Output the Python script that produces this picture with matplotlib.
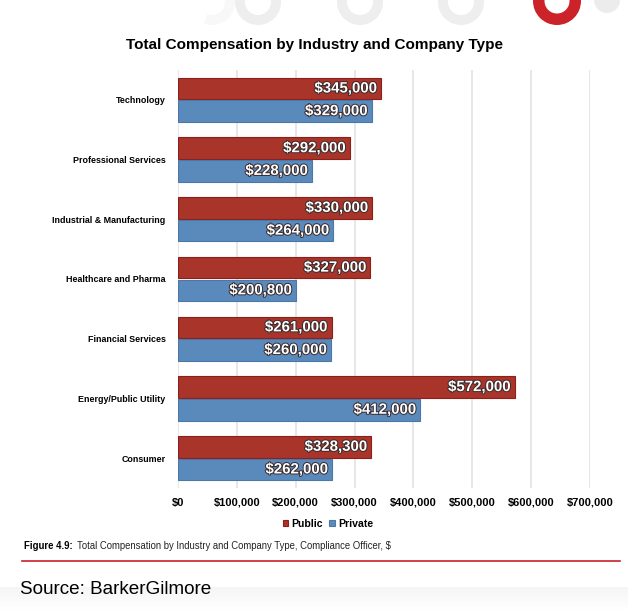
import numpy as np
import matplotlib.pyplot as plt
from matplotlib import patheffects as pe
from matplotlib.patches import Wedge, Circle

plt.rcParams["font.family"] = ["Liberation Sans", "DejaVu Sans"]

industries = ["Technology", "Professional Services", "Industrial & Manufacturing",
              "Healthcare and Pharma", "Financial Services", "Energy/Public Utility",
              "Consumer"]
public = [345000, 292000, 330000, 327000, 261000, 572000, 328300]
private = [329000, 228000, 264000, 200800, 260000, 412000, 262000]
public_labels = ["$345,000", "$292,000", "$330,000", "$327,000", "$261,000", "$572,000", "$328,300"]
private_labels = ["$329,000", "$228,000", "$264,000", "$200,800", "$260,000", "$412,000", "$262,000"]
xticks = [0, 100000, 200000, 300000, 400000, 500000, 600000, 700000]
xtick_labels = ["$0", "$100,000", "$200,000", "$300,000", "$400,000", "$500,000", "$600,000", "$700,000"]

RED = "#A8342A"
BLUE = "#5A89BC"

fig = plt.figure(figsize=(6.28, 6.11), dpi=100)
fig.patch.set_facecolor("white")
W, H = 628, 611

# decorative rings, separator line and bottom shading
deco = fig.add_axes([0, 0, 1, 1], zorder=-1)
deco.set_xlim(0, W)
deco.set_ylim(0, H)
deco.axis("off")
deco.add_patch(Wedge((212, H - 2), 23, 250, 20, width=10, facecolor="#f8f8f8", edgecolor="none"))
for cx in (258, 360, 461):
    deco.add_patch(Wedge((cx, H - 2), 23, 0, 360, width=10, facecolor="#eeeeef", edgecolor="none"))
deco.add_patch(Wedge((557, H - 1), 24, 0, 360, width=11.5, facecolor="#cc2229", edgecolor="none"))
deco.add_patch(Circle((607, H), 13, facecolor="#ececed", edgecolor="none"))
deco.plot([22, 620], [H - 561, H - 561], color="#c8202a", lw=1.2)
grad = np.linspace(1, 0, 30).reshape(-1, 1)
deco.imshow(grad, extent=(0, W, 0, 24), cmap="Greys", vmin=0, vmax=12, aspect="auto")

ax = fig.add_axes([178 / W, 1 - 488 / H, 412 / W, (488 - 70) / H])
y = np.arange(len(industries))
h = 0.36
ax.barh(y - h / 2 - 0.01, public, height=h, color=RED, edgecolor="#8e1f18", lw=0.8, label="Public", zorder=3)
ax.barh(y + h / 2 + 0.01, private, height=h, color=BLUE, edgecolor="#4a78a8", lw=0.8, label="Private", zorder=3)

stroke = [pe.withStroke(linewidth=1.4, foreground="#3a2a2a")]
for i in range(len(industries)):
    ax.text(public[i] - 7000, y[i] - h / 2 - 0.01, public_labels[i], ha="right", va="center",
            color="white", fontsize=10.8, fontweight="bold", path_effects=stroke, zorder=4)
    ax.text(private[i] - 7000, y[i] + h / 2 + 0.01, private_labels[i], ha="right", va="center",
            color="white", fontsize=10.8, fontweight="bold", path_effects=stroke, zorder=4)

ax.set_xlim(0, 700000)
ax.set_ylim(len(industries) - 0.5, -0.5)
ax.set_yticks(y)
ax.set_yticklabels(industries, fontsize=6.4, fontweight="bold")
ax.set_xticks(xticks)
ax.set_xticklabels(xtick_labels, fontsize=8, fontweight="bold")
ax.tick_params(axis="both", length=0)
ax.tick_params(axis="y", pad=9)
ax.tick_params(axis="x", pad=7)
ax.grid(axis="x", color="#e3e3e3", lw=1.2, zorder=0)
for s in ax.spines.values():
    s.set_visible(False)
ax.set_facecolor("none")

fig.text(0.5, 1 - 45 / H, "Total Compensation by Industry and Company Type", ha="center", va="center",
         fontsize=11, fontweight="bold")
fig.legend(loc="center", bbox_to_anchor=(328 / W, 1 - 524 / H), ncol=2, frameon=False,
           prop={"weight": "bold", "size": 7.6}, handlelength=0.5, handleheight=0.5,
           handletextpad=0.3, columnspacing=0.6)
fig.text(24 / W, 1 - 546 / H, "Figure 4.9:", fontsize=6.9, fontweight="bold", va="center")
fig.text(77 / W, 1 - 546 / H, "Total Compensation by Industry and Company Type, Compliance Officer, $",
         fontsize=6.85, va="center", color="#222222")
fig.text(20 / W, 1 - 590 / H, "Source: BarkerGilmore", fontsize=13.6, va="center")

fig.savefig("out.png", dpi=100)
